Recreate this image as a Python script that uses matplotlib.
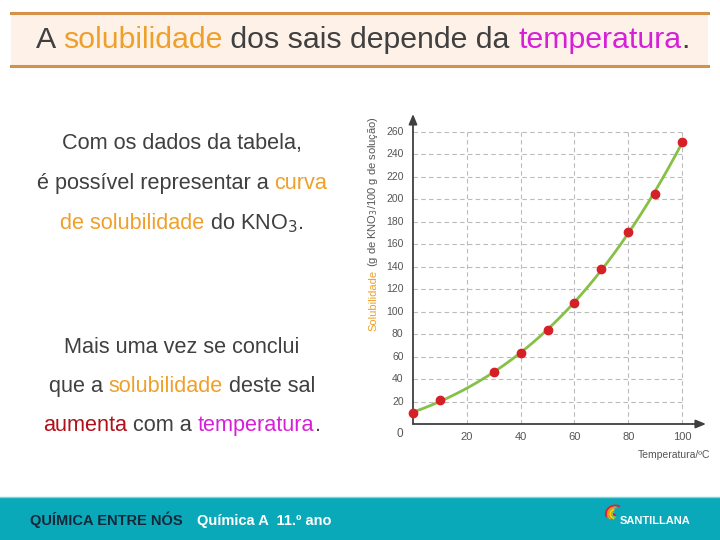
import matplotlib
matplotlib.use('Agg')
import matplotlib.pyplot as plt
from matplotlib.patches import Rectangle, Wedge
import numpy as np

# -------------------------------------------------------------------------------------------------------------------- #
# Data
# -------------------------------------------------------------------------------------------------------------------- #

temperature = [0, 10, 30, 40, 50, 60, 70, 80, 90, 100]
solubility = [10, 21, 46, 63, 84, 108, 138, 171, 205, 251]

x_ticks = [20, 40, 60, 80, 100]
y_ticks = [20, 40, 60, 80, 100, 120, 140, 160, 180, 200, 220, 240, 260]

# Colours
DARK = '#404040'
ORANGE = '#EFA02A'
MAGENTA = '#D81FD8'
DARKRED = '#B0101A'
TEAL = '#0AA9BA'

W, H = 720, 540
plt.rcParams['font.family'] = ['Liberation Sans', 'DejaVu Sans']

fig = plt.figure(figsize=(7.2, 5.4), dpi=100)
fig.patch.set_facecolor('white')
renderer = fig.canvas.get_renderer()


def fx(px):
    return px / W


def fy(py):
    return 1 - py / H


def colored_line(pieces, cx, base_y, size, **kw):
    """Draw a line made of (text, colour) pieces centered at cx (pixels), baseline at base_y (pixels)."""
    texts = [fig.text(0, fy(base_y), s, color=c, fontsize=size, va='baseline', ha='left', **kw)
             for s, c in pieces]
    widths = [t.get_window_extent(renderer).width for t in texts]
    x = cx - sum(widths) / 2
    for t, w in zip(texts, widths):
        t.set_x(fx(x))
        x += w
    return texts


# -------------------------------------------------------------------------------------------------------------------- #
# Title band
# -------------------------------------------------------------------------------------------------------------------- #
fig.patches.append(Rectangle((fx(11), fy(66)), fx(708 - 11), (66 - 12.5) / H, transform=fig.transFigure,
                             facecolor='#FDF1E8', edgecolor='none', zorder=0))
for yy in (12.5, 66):
    fig.add_artist(plt.Line2D([fx(11), fx(708)], [fy(yy), fy(yy)], color='#D4914A', lw=2.2,
                              transform=fig.transFigure))

colored_line([('A ', DARK), ('solubilidade', ORANGE), (' dos sais depende da ', DARK),
              ('temperatura', MAGENTA), ('.', DARK)], 363, 48, 21.8)

# -------------------------------------------------------------------------------------------------------------------- #
# Left text
# -------------------------------------------------------------------------------------------------------------------- #
fs = 15.6
cx = 182
colored_line([('Com os dados da tabela,', DARK)], cx, 149, fs)
colored_line([('é possível representar a ', DARK), ('curva', ORANGE)], cx, 189, fs)
colored_line([('de solubilidade', ORANGE), (' do KNO$_3$.', DARK)], cx, 229, fs)
colored_line([('Mais uma vez se conclui', DARK)], cx, 353, fs)
colored_line([('que a ', DARK), ('solubilidade', ORANGE), (' deste sal', DARK)], cx, 392, fs)
colored_line([('aumenta', DARKRED), (' com a ', DARK), ('temperatura', MAGENTA), ('.', DARK)], cx, 431, fs)

# -------------------------------------------------------------------------------------------------------------------- #
# Chart
# -------------------------------------------------------------------------------------------------------------------- #
x0_px, x100_px = 413, 682
y0_px, y260_px = 424, 132
px_x = (x100_px - x0_px) / 100
px_y = (y0_px - y260_px) / 260
xmax = (706 - x0_px) / px_x
ymax = (y0_px - 114) / px_y

ax = fig.add_axes([fx(x0_px), fy(y0_px), (706 - x0_px) / W, (y0_px - 114) / H])
ax.set_xlim(0, xmax)
ax.set_ylim(0, ymax)
ax.patch.set_alpha(0)
for s in ax.spines.values():
    s.set_visible(False)
ax.set_xticks([])
ax.set_yticks([])

# Grid (limited to the data frame)
ax.hlines(y_ticks, 0, 100, colors='#BBBBBB', linestyles=(0, (4, 3)), lw=0.8, zorder=1)
ax.vlines(x_ticks, 0, 260, colors='#BBBBBB', linestyles=(0, (4, 3)), lw=0.8, zorder=1)

# Axes with arrows
arrow = dict(arrowstyle='-|>,head_length=0.6,head_width=0.25', color='#404040', lw=1.3, shrinkA=0, shrinkB=0)
ax.annotate('', xy=(xmax, 0), xytext=(0, 0), arrowprops=arrow, annotation_clip=False)
ax.annotate('', xy=(0, ymax), xytext=(0, 0), arrowprops=arrow, annotation_clip=False)

# Trend curve fitted to the measured points
coef = np.polyfit(temperature, solubility, 3)
xs = np.linspace(0, 100, 200)
ax.plot(xs, np.polyval(coef, xs), color='#86C046', lw=2, zorder=3, clip_on=False)
ax.plot(temperature, solubility, 'o', color='#D62027', ms=6, zorder=4, clip_on=False)

# Tick labels
tick_col = '#555555'
for v in y_ticks:
    ax.text(-3.5, v, str(v), ha='right', va='center', fontsize=7.5, color=tick_col)
for v in x_ticks:
    ax.text(v, -7, str(v), ha='center', va='top', fontsize=8, color=tick_col)
ax.text(-3.5, -4, '0', ha='right', va='top', fontsize=8.5, color=tick_col)

# Axis titles
fig.text(fx(710), fy(458), 'Temperatura/ºC', ha='right', va='baseline', fontsize=7.5, color=tick_col)

ylab_pieces = [('Solubilidade', ORANGE), (' (g de KNO$_3$/100 g de solução)', tick_col)]
ylab = [fig.text(fx(373), 0, s, color=c, fontsize=8, rotation=90, ha='left', va='center',
                 rotation_mode='anchor') for s, c in ylab_pieces]
hs = [t.get_window_extent(renderer).height for t in ylab]
ypos = 224 + sum(hs) / 2
for t, h in zip(ylab, hs):
    t.set_y(fy(ypos))
    ypos -= h

# -------------------------------------------------------------------------------------------------------------------- #
# Footer
# -------------------------------------------------------------------------------------------------------------------- #
fig.patches.append(Rectangle((0, 0), 1, (540 - 497) / H, transform=fig.transFigure,
                             facecolor=TEAL, edgecolor='none', zorder=0))
fig.add_artist(plt.Line2D([0, 1], [fy(497), fy(497)], color='#7FD3DC', lw=1, transform=fig.transFigure))
t1 = fig.text(fx(30), fy(525), 'QUÍMICA ENTRE NÓS', fontweight='bold', fontsize=10.5, color='#14283A',
              va='baseline', ha='left')
x_end = 30 + t1.get_window_extent(renderer).width
fig.text(fx(x_end + 14), fy(525), 'Química A  11.º ano', fontweight='bold', fontsize=10.5, color='white',
         va='baseline', ha='left')
fig.text(fx(690), fy(524), 'SANTILLANA', fontweight='bold', fontsize=8, color='white', va='baseline', ha='right')

# Logo swoosh
logo_ax = fig.add_axes([fx(601), fy(524), 22 / W, 20 / H], zorder=5)
logo_ax.set_xlim(-1, 1)
logo_ax.set_ylim(-1, 1)
logo_ax.axis('off')
for (r, col, a1, a2) in [(0.95, '#E4202E', 60, 200), (0.75, '#F7931E', 80, 230),
                         (0.55, '#FFD200', 100, 260), (0.38, '#8DC63F', 120, 280), (0.22, '#EC008C', 150, 300)]:
    logo_ax.add_patch(Wedge((0.3, 0), r, a1, a2, width=0.18, facecolor=col, edgecolor='none'))

fig.savefig('out.png', dpi=100, facecolor='white')
